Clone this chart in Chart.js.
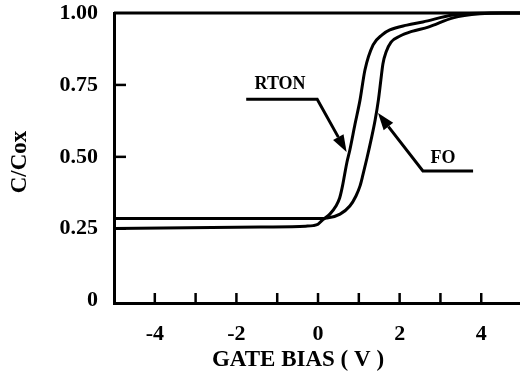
<!DOCTYPE html>
<html>
<head>
<meta charset="utf-8">
<script src="https://cdn.jsdelivr.net/npm/chart.js@4.4.1/dist/chart.umd.min.js"></script>
<style>
  html, body { margin: 0; padding: 0; background: #fff; }
  #wrap { width: 520px; height: 378px; }
</style>
</head>
<body>
<div id="wrap"><canvas id="cv"></canvas></div>
<script>
// C-V curves (gate bias in V, normalised capacitance)
const rtonBias = [-5, -1.4, -0.3, -0.12, 0, 0.12, 0.29, 0.44, 0.53, 0.59, 0.65, 0.71, 0.78, 0.907, 1.03, 1.15, 1.35, 1.57, 1.76, 2.18, 2.57, 3.31, 4.22, 4.95];
const rtonCap  = [0.251, 0.256, 0.259, 0.261, 0.266, 0.282, 0.301, 0.329, 0.357, 0.392, 0.437, 0.482, 0.524, 0.614, 0.698, 0.802, 0.889, 0.924, 0.941, 0.958, 0.969, 0.993, 1.0, 1.0];

const foBias = [-5, 0.05, 0.22, 0.54, 0.78, 0.93, 1.03, 1.10, 1.20, 1.30, 1.40, 1.48, 1.54, 1.59, 1.67, 1.79, 2.01, 2.30, 2.70, 3.31, 3.97, 4.53, 4.95];
const foCap  = [0.286, 0.286, 0.287, 0.301, 0.329, 0.364, 0.399, 0.437, 0.496, 0.559, 0.628, 0.698, 0.767, 0.823, 0.865, 0.899, 0.920, 0.936, 0.951, 0.983, 0.997, 1.0, 1.0];

const xTickValues = [-4, -3, -2, -1, 0, 1, 2, 3, 4];
const xTickLabels = [-4, -2, 0, 2, 4];
const yTickValues = [0, 0.25, 0.5, 0.75, 1];
const yTickLabels = ['0', '0.25', '0.50', '0.75', '1.00'];

// callouts in data units: text centre, leader start, elbow, arrow tip
const callouts = [
    { text: 'RTON', at: [-0.93, 0.753], from: [-1.76, 0.70], elbow: [-0.02, 0.70], tip: [0.70, 0.517] },
    { text: 'FO', at: [3.06, 0.496], from: [3.80, 0.451], elbow: [2.57, 0.451], tip: [1.47, 0.652] }
];

const serif = "'Liberation Serif', 'Times New Roman', serif";
Chart.defaults.font.family = serif;
Chart.defaults.color = '#000';

const toPoints = (xs, ys) => xs.map((v, i) => ({ x: v, y: ys[i] }));

const decor = {
    id: 'decor',
    afterDatasetsDraw(chart) {
        const { ctx, chartArea: a, scales: { x, y } } = chart;
        const px = p => [x.getPixelForValue(p[0]), y.getPixelForValue(p[1])];
        ctx.save();
        ctx.strokeStyle = '#000';
        ctx.fillStyle = '#000';

        // top frame line
        ctx.lineWidth = 3;
        ctx.beginPath();
        ctx.moveTo(a.left, a.top);
        ctx.lineTo(a.right, a.top);
        ctx.stroke();

        // inward tick marks (the end ones sit on the frame)
        ctx.lineWidth = 2.5;
        xTickValues.forEach(v => {
            const tx = x.getPixelForValue(v);
            ctx.beginPath();
            ctx.moveTo(tx, a.bottom);
            ctx.lineTo(tx, a.bottom - 10);
            ctx.stroke();
        });
        yTickValues.filter(v => v > 0 && v < 1).forEach(v => {
            const ty = y.getPixelForValue(v);
            ctx.beginPath();
            ctx.moveTo(a.left, ty);
            ctx.lineTo(a.left + 12, ty);
            ctx.stroke();
        });

        // callout leaders with arrowheads
        callouts.forEach(c => {
            const [fx, fy] = px(c.from);
            const [ex, ey] = px(c.elbow);
            const [tx, ty] = px(c.tip);
            const ang = Math.atan2(ty - ey, tx - ex);
            const headLen = 17, headW = 6;
            const bx = tx - headLen * Math.cos(ang);
            const by = ty - headLen * Math.sin(ang);
            ctx.lineWidth = 3;
            ctx.beginPath();
            ctx.moveTo(fx, fy);
            ctx.lineTo(ex, ey);
            ctx.lineTo(bx, by);
            ctx.stroke();
            ctx.beginPath();
            ctx.moveTo(tx, ty);
            ctx.lineTo(bx + headW * Math.sin(ang), by - headW * Math.cos(ang));
            ctx.lineTo(bx - headW * Math.sin(ang), by + headW * Math.cos(ang));
            ctx.closePath();
            ctx.fill();

            const [lx, ly] = px(c.at);
            ctx.font = 'bold 18px ' + serif;
            ctx.textAlign = 'center';
            ctx.textBaseline = 'middle';
            ctx.fillText(c.text, lx, ly);
        });

        // axis titles
        ctx.font = 'bold 23px ' + serif;
        ctx.textAlign = 'center';
        ctx.textBaseline = 'middle';
        ctx.fillText('GATE BIAS ( V )', a.left + 184, a.bottom + 57);
        ctx.translate(a.left - 94, a.top + 149);
        ctx.rotate(-Math.PI / 2);
        ctx.fillText('C/Cox', 0, 0);
        ctx.restore();
    }
};

new Chart(document.getElementById('cv'), {
    type: 'scatter',
    data: {
        datasets: [
            { label: 'RTON', data: toPoints(rtonBias, rtonCap) },
            { label: 'FO', data: toPoints(foBias, foCap) }
        ]
    },
    options: {
        responsive: true,
        maintainAspectRatio: false,
        animation: false,
        layout: { padding: { top: 13, right: 0, left: 0, bottom: 0 } },
        elements: {
            point: { radius: 0 },
            line: { borderColor: '#000', borderWidth: 3, cubicInterpolationMode: 'monotone' }
        },
        datasets: { scatter: { showLine: true, clip: false } },
        plugins: {
            legend: { display: false },
            tooltip: { enabled: false }
        },
        scales: {
            x: {
                type: 'linear',
                min: -5,
                max: 4.95,
                afterBuildTicks: scale => { scale.ticks = xTickValues.map(v => ({ value: v })); },
                afterFit: scale => { scale.height = 75; scale.paddingLeft = 0; scale.paddingRight = 0; },
                grid: { display: false, drawTicks: false },
                border: { display: true, width: 3, color: '#000' },
                ticks: {
                    padding: 18,
                    maxRotation: 0,
                    autoSkip: false,
                    font: { size: 22, weight: 'bold' },
                    callback: v => (xTickLabels.includes(v) ? String(v) : '')
                }
            },
            y: {
                type: 'linear',
                min: -0.008,
                max: 1.0,
                afterBuildTicks: scale => { scale.ticks = yTickValues.map(v => ({ value: v })); },
                afterFit: scale => { scale.width = 114; scale.paddingTop = 0; scale.paddingBottom = 0; },
                grid: { display: false, drawTicks: false },
                border: { display: true, width: 3, color: '#000' },
                ticks: {
                    padding: 16,
                    autoSkip: false,
                    font: { size: 22, weight: 'bold' },
                    callback: v => yTickLabels[yTickValues.indexOf(v)]
                }
            }
        }
    },
    plugins: [decor]
});
</script>
</body>
</html>
